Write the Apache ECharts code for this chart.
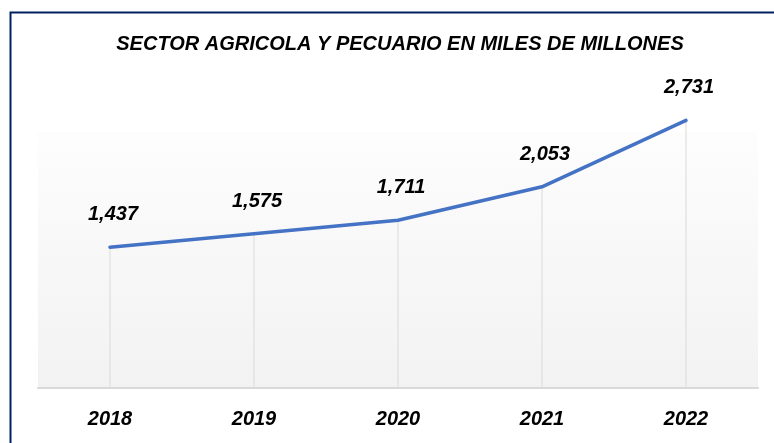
<!DOCTYPE html>
<html>
<head>
<meta charset="utf-8">
<script src="https://cdn.jsdelivr.net/npm/echarts@6/dist/echarts.min.js"></script>
<style>
html,body{margin:0;padding:0;background:#fff;}
#chart{width:774px;height:443px;}
</style>
</head>
<body>
<div id="chart"></div>
<script>
const titleText = 'SECTOR AGRICOLA Y PECUARIO EN MILES DE MILLONES';
const categories = ['2018', '2019', '2020', '2021', '2022'];
const values = [1437, 1575, 1711, 2053, 2731];
const yMin = 0;
const yMax = 3000;

const FONT = '"Liberation Sans", Arial, sans-serif';
const chart = echarts.init(document.getElementById('chart'), null, {renderer: 'canvas'});

const option = {
  backgroundColor: '#ffffff',
  animation: false,
  title: {
    text: titleText,
    left: 400,
    top: 34,
    textAlign: 'center',
    padding: 0,
    textStyle: {
      fontFamily: FONT, fontSize: 20, fontWeight: 'bold', fontStyle: 'italic', color: '#000000'
    }
  },
  graphic: [{
    type: 'rect',
    left: 8, top: 10,
    shape: {width: 900, height: 600},
    style: {fill: 'none', stroke: '#002060', lineWidth: 2},
    silent: true, z: 100
  }],
  grid: {
    left: 38, right: 16, top: 94, bottom: 55,
    show: true, borderWidth: 0,
    backgroundColor: new echarts.graphic.LinearGradient(0, 0, 0, 1, [
      {offset: 0, color: '#ffffff'},
      {offset: 0.128, color: '#ffffff'},
      {offset: 0.13, color: '#fdfdfd'},
      {offset: 1, color: '#f2f2f2'}
    ])
  },
  xAxis: {
    type: 'category',
    data: categories,
    boundaryGap: true,
    axisLine: {show: true, lineStyle: {color: '#d9d9d9', width: 2}},
    axisTick: {show: false},
    splitLine: {show: false},
    axisLabel: {
      margin: 21,
      fontFamily: FONT, fontSize: 20, fontWeight: 'bold', fontStyle: 'italic', color: '#000000'
    }
  },
  yAxis: {
    type: 'value', min: yMin, max: yMax,
    show: false,
    splitLine: {show: false}
  },
  series: [
    {
      type: 'bar',
      data: values,
      barWidth: 1,
      itemStyle: {color: '#d9d9d9'},
      silent: true,
      z: 1
    },
    {
      type: 'line',
      data: values,
      clip: false,
      symbol: 'circle',
      symbolSize: 1,
      showSymbol: true,
      itemStyle: {color: '#4472c4'},
      lineStyle: {color: '#4472c4', width: 3.5, cap: 'round', join: 'round'},
      z: 3,
      label: {
        show: true,
        position: 'top',
        distance: 22,
        offset: [3, 0],
        formatter: p => Number(p.value).toLocaleString('en-US'),
        fontFamily: FONT, fontSize: 20, fontWeight: 'bold', fontStyle: 'italic', color: '#000000'
      }
    }
  ]
};
chart.setOption(option);
</script>
</body>
</html>
